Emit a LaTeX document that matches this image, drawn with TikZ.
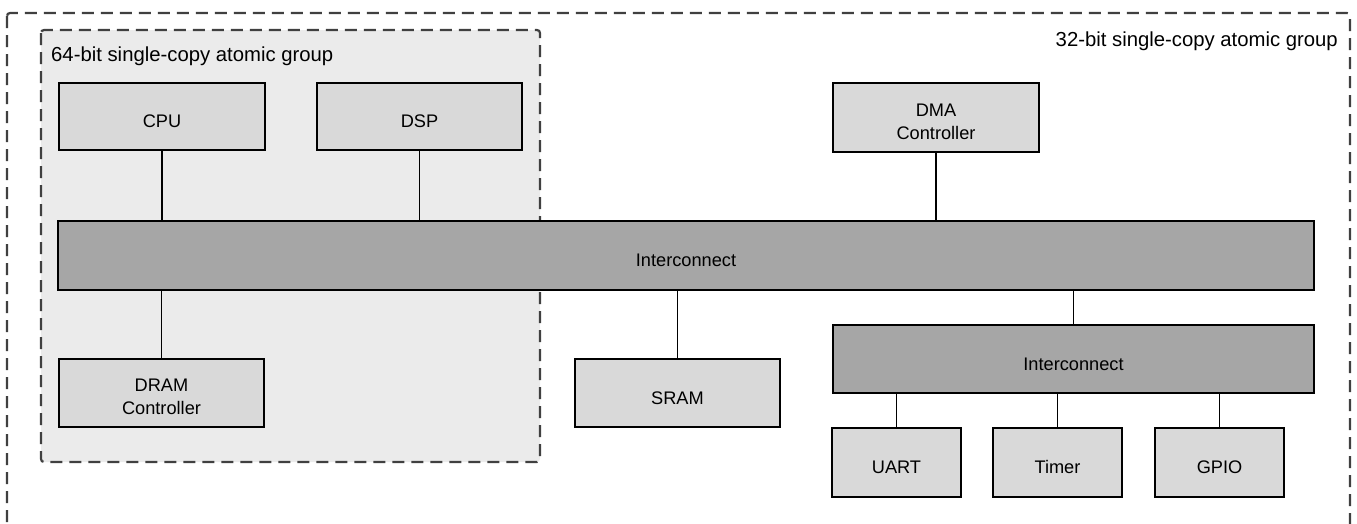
\documentclass[tikz,border=0pt]{standalone}
\usepackage{fontspec}
\setmainfont{Liberation Sans}
\begin{document}
\begin{tikzpicture}[x=1pt,y=-1pt,
  blk/.style={draw=black,line width=1.3pt,fill=boxgray,inner sep=0pt},
  bus/.style={draw=black,line width=1.3pt,fill=busgray,inner sep=0pt},
  grp/.style={draw=dashgray,line width=2.2pt,dash pattern=on 12pt off 7pt,rounded corners=3pt},
  wire/.style={draw=black,line width=1.1pt},
  glabel/.style={font=\fontsize{20.3}{24}\selectfont,inner sep=0pt},
  onel/.style={font=\fontsize{18.2}{23}\selectfont,inner sep=0pt,text height=13pt,text depth=0pt,yshift=-4.5pt},
  twol/.style={align=center,font=\fontsize{18.2}{23}\selectfont,inner sep=0pt,yshift=-4pt}]
\definecolor{boxgray}{HTML}{D9D9D9}
\definecolor{busgray}{HTML}{A6A6A6}
\definecolor{grpfill}{HTML}{EBEBEB}
\definecolor{dashgray}{HTML}{404040}
\useasboundingbox (0,0) rectangle (1357,523);
\begin{scope}
\clip (0,0) rectangle (1357,523);
\draw[grp] (7,13) rectangle (1350,560);
\end{scope}
\node[glabel,anchor=east] (g32) at (1338,41) {32-bit single-copy atomic group};
\draw[grp,fill=grpfill] (41,30) rectangle (540,462);
\node[glabel,anchor=west] (g64) at (51,56) {64-bit single-copy atomic group};
% blocks
\node[blk,minimum width=206pt,minimum height=67pt] (cpu) at (162,116.5) {};
\node[blk,minimum width=205pt,minimum height=67pt] (dsp) at (419.5,116.5) {};
\node[blk,minimum width=206pt,minimum height=69pt] (dma) at (936,117.5) {};
\node[bus,minimum width=1256pt,minimum height=69pt] (ic1) at (686,255.5) {};
\node[blk,minimum width=205pt,minimum height=68pt] (dram) at (161.5,393) {};
\node[blk,minimum width=205pt,minimum height=68pt] (sram) at (677.5,393) {};
\node[bus,minimum width=481pt,minimum height=68pt] (ic2) at (1073.5,359) {};
\node[blk,minimum width=129pt,minimum height=69pt] (uart) at (896.5,462.5) {};
\node[blk,minimum width=129pt,minimum height=69pt] (timer) at (1057.5,462.5) {};
\node[blk,minimum width=129pt,minimum height=69pt] (gpio) at (1219.5,462.5) {};
% labels
\node[onel] (tcpu) at (cpu.center) {CPU};
\node[onel] (tdsp) at (dsp.center) {DSP};
\node[twol] (tdma) at (dma.center) {DMA\\Controller};
\node[onel] (tic1) at (ic1.center) {Interconnect};
\node[twol] (tdram) at (dram.center) {DRAM\\Controller};
\node[onel] (tsram) at (sram.center) {SRAM};
\node[onel] (tic2) at (ic2.center) {Interconnect};
\node[onel] (tuart) at (uart.center) {UART};
\node[onel] (ttimer) at (timer.center) {Timer};
\node[onel] (tgpio) at (gpio.center) {GPIO};
% wires
\draw[wire] (cpu.south) -- (cpu.south |- ic1.north);
\draw[wire] (dsp.south) -- (dsp.south |- ic1.north);
\draw[wire] (dma.south) -- (dma.south |- ic1.north);
\draw[wire] (dram.north) -- (dram.north |- ic1.south);
\draw[wire] (sram.north) -- (sram.north |- ic1.south);
\draw[wire] (ic2.north) -- (ic2.north |- ic1.south);
\draw[wire] (uart.north) -- (uart.north |- ic2.south);
\draw[wire] (timer.north) -- (timer.north |- ic2.south);
\draw[wire] (gpio.north) -- (gpio.north |- ic2.south);
\end{tikzpicture}
\end{document}
